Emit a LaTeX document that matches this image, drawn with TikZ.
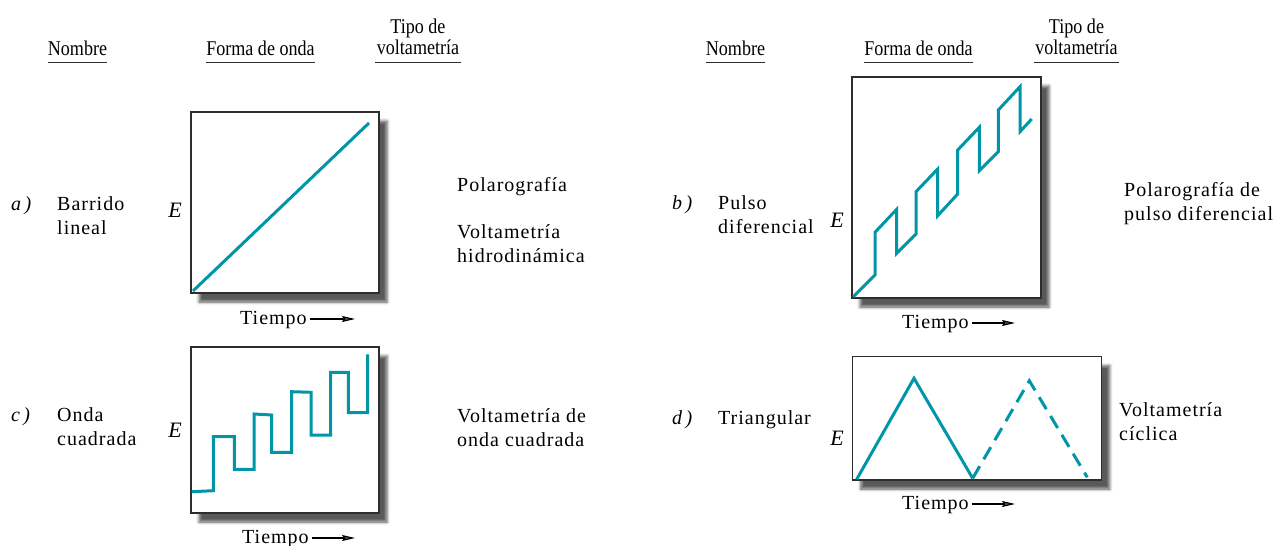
\documentclass[tikz,border=0pt]{standalone}
\usepackage{fontspec}
\setmainfont{Liberation Serif}
\newfontfamily\hdrfont[FakeStretch=0.86]{Liberation Serif}
\newfontfamily\bodyfont[LetterSpace=5]{Liberation Serif}
\usetikzlibrary{arrows.meta,shadows.blur}
\definecolor{wavecol}{RGB}{0,150,168}
\definecolor{framecol}{RGB}{45,45,45}
\begin{document}
\begin{tikzpicture}[x=1pt,y=-1pt,
  hdr/.style={font=\hdrfont\fontsize{21}{22}\selectfont, inner sep=0, anchor=base},
  txt/.style={font=\bodyfont\fontsize{20}{24.5}\selectfont, inner sep=0, anchor=base west},
  lbl/.style={font=\fontsize{20}{24}\selectfont\itshape, inner sep=0, anchor=base west},
  axl/.style={font=\fontsize{22}{24}\selectfont\itshape, inner sep=0, anchor=base},
  uline/.style={draw=framecol, line width=1pt},
  wavebox/.style={draw=framecol, line width=1.3pt, fill=white,
    blur shadow={shadow xshift=8pt, shadow yshift=-9pt, shadow blur radius=3pt, shadow opacity=65}},
  wavepath/.style={draw=wavecol, line width=3pt, line join=miter},
  tarrow/.style={-{Stealth[length=13pt,width=6pt,inset=2pt]}, line width=1.1pt}
]
\useasboundingbox (0,0) rectangle (1278,546);

% headers left
\node[hdr] (hn1) at (77.5,55) {Nombre};
\node[hdr] (hf1) at (260.5,55) {Forma de onda};
\node[hdr] (ht1a) at (418,33) {Tipo de};
\node[hdr] (ht1b) at (418,54.5) {voltametría};
\draw[uline] (48,62.3) -- (107,62.3);
\draw[uline] (206,62.3) -- (315,62.3);
\draw[uline] (375,62.3) -- (461,62.3);
% headers right
\node[hdr] (hn2) at (735.5,55) {Nombre};
\node[hdr] (hf2) at (918.5,55) {Forma de onda};
\node[hdr] (ht2a) at (1076.5,33) {Tipo de};
\node[hdr] (ht2b) at (1076.5,54.5) {voltametría};
\draw[uline] (706,62.3) -- (765,62.3);
\draw[uline] (864,62.3) -- (973,62.3);
\draw[uline] (1034,62.3) -- (1119,62.3);

% ---- a) ----
\node[lbl] (la) at (11,210) {a\,)};
\node[txt] (na1) at (57,210) {Barrido};
\node[txt] (na2) at (57,234.5) {lineal};
\node[axl] (ea) at (175,217) {E};
\path[wavebox] (191,112) rectangle (379,293);
\draw[wavepath] (193,291) -- (369,123);
\node[txt] (ta) at (240,324) {Tiempo};
\coordinate (taend) at (355,319);
\draw[tarrow] ([xshift=3pt]ta.base east |- taend) -- (taend);
\node[txt] (va1) at (457,191) {Polarografía};
\node[txt] (va2) at (457,238) {Voltametría};
\node[txt] (va3) at (457,262.5) {hidrodinámica};

% ---- b) ----
\node[lbl] (lb) at (672,209) {b\,)};
\node[txt] (nb1) at (718,209) {Pulso};
\node[txt] (nb2) at (718,233.5) {diferencial};
\node[axl] (eb) at (837,227) {E};
\path[wavebox] (852,77) rectangle (1041,298);
\draw[wavepath] (853.3,296.7) -- (875,275) -- (875,232.3) -- (896.7,209.3) -- (896.7,253.3)
  -- (916,234) -- (916,191.7) -- (937.7,169) -- (937.7,215.7) -- (957.7,194) -- (957.7,150)
  -- (979.3,127.3) -- (979.3,170.7) -- (998.3,151.7) -- (998.3,110) -- (1020,86.7)
  -- (1020,131.7) -- (1031.7,119);
\node[txt] (tb) at (902,328) {Tiempo};
\coordinate (tbend) at (1015,323);
\draw[tarrow] ([xshift=3pt]tb.base east |- tbend) -- (tbend);
\node[txt] (vb1) at (1124,196) {Polarografía de};
\node[txt] (vb2) at (1124,220.5) {pulso diferencial};

% ---- c) ----
\node[lbl] (lc) at (11,421) {c\,)};
\node[txt] (nc1) at (57,421) {Onda};
\node[txt] (nc2) at (57,445.5) {cuadrada};
\node[axl] (ec) at (175,437) {E};
\path[wavebox] (191,347) rectangle (379,513);
\draw[wavepath] (191.7,491.7) -- (213.3,490.7) -- (213.3,436.7) -- (234.3,436.7) -- (234.3,469.3)
  -- (254,469.3) -- (254,414) -- (271.7,415) -- (271.7,452.3) -- (291.7,452.3) -- (291.7,391.7)
  -- (311,392.3) -- (311,435) -- (330.7,435) -- (330.7,372.3) -- (348.3,372.3) -- (348.3,412.7)
  -- (367.7,412.7) -- (367.7,354.3);
\node[txt] (tc) at (242,543) {Tiempo};
\coordinate (tcend) at (355,538);
\draw[tarrow] ([xshift=3pt]tc.base east |- tcend) -- (tcend);
\node[txt] (vc1) at (457,422) {Voltametría de};
\node[txt] (vc2) at (457,446.5) {onda cuadrada};

% ---- d) ----
\node[lbl] (ld) at (672,424) {d\,)};
\node[txt] (nd1) at (718,424) {Triangular};
\node[axl] (ed) at (837,445) {E};
\path[wavebox] (852.7,356.7) rectangle (1101.7,480);
\draw[wavepath] (856.7,479.3) -- (914,378.3) -- (972.7,478.3);
\draw[wavepath, dash pattern=on 14pt off 8pt] (972.7,478.3) -- (1029.3,380.7) -- (1087.3,477.3);
\node[txt] (td) at (902,509) {Tiempo};
\coordinate (tdend) at (1015,504);
\draw[tarrow] ([xshift=3pt]td.base east |- tdend) -- (tdend);
\node[txt] (vd1) at (1119,416) {Voltametría};
\node[txt] (vd2) at (1119,440.5) {cíclica};
\end{tikzpicture}
\end{document}
